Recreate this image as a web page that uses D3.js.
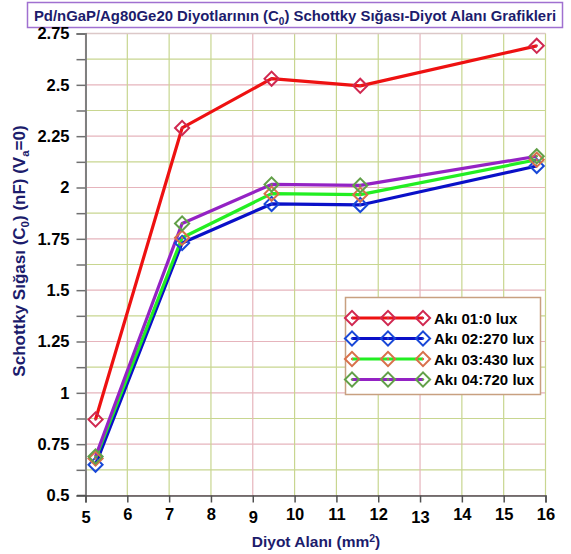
<!DOCTYPE html>
<html><head><meta charset="utf-8">
<script src="https://cdn.jsdelivr.net/npm/d3@7/dist/d3.min.js"></script>
<style>body{margin:0;background:#fff;}svg{display:block;font-family:Arial,"Liberation Sans",sans-serif;}</style>
</head><body><svg id="c" width="571" height="554"></svg>
<script>
const areas = [5.24, 7.31, 9.45, 11.57, 15.79];
const seriesNames = ["Akı 01:0 lux", "Akı 02:270 lux", "Akı 03:430 lux", "Akı 04:720 lux"];
const s1 = [0.87, 2.29, 2.53, 2.495, 2.69];
const s2 = [0.65, 1.73, 1.92, 1.915, 2.105];
const s3 = [0.68, 1.755, 1.97, 1.965, 2.135];
const s4 = [0.69, 1.825, 2.015, 2.01, 2.152];
const xTicks = [5,6,7,8,9,10,11,12,13,14,15,16];
const yTicks = [0.5,0.75,1,1.25,1.5,1.75,2,2.25,2.5,2.75];
const yMinor = d3.range(0.5, 2.7501, 0.125);
const lineColors = ["#ee1111", "#0a10c8", "#22ee22", "#9422c4"];
const markColors = ["#d02850", "#1848d8", "#d8704a", "#62a048"];
const allSeries = [s1, s2, s3, s4];

const svg = d3.select("#c");
const x = d3.scaleLinear().domain([5,16]).range([85.5,545.5]);
const y = d3.scaleLinear().domain([0.5,2.75]).range([495.5,33.5]);

// title
svg.append("rect").attr("x",27.5).attr("y",2.5).attr("width",535).attr("height",25)
  .attr("fill","#fff").attr("stroke","#a070d0").attr("stroke-width",1.5);
svg.append("text").attr("x",295).attr("y",20.5).attr("text-anchor","middle")
  .attr("font-size",14.9).attr("font-weight","bold").attr("fill","#1c1c6c")
  .html('Pd/nGaP/Ag80Ge20 Diyotlarının (C<tspan font-size="10" dy="4">0</tspan><tspan dy="-4">) Schottky Sığası-Diyot Alanı Grafikleri</tspan>');

// grid
const g = svg.append("g");
yMinor.forEach(v => {
  const major = Math.abs(v*4 - Math.round(v*4)) < 1e-6;
  g.append("line").attr("x1",x(5)).attr("x2",x(16)).attr("y1",y(v)).attr("y2",y(v))
    .attr("stroke", major ? "#e6b4bc" : "#c8d690").attr("stroke-width",1.2);
});
xTicks.forEach(v => {
  const major = (v-5)%4===0;
  g.append("line").attr("x1",x(v)).attr("x2",x(v)).attr("y1",y(0.5)).attr("y2",y(2.75))
    .attr("stroke", major ? "#e6b4bc" : "#c8d690").attr("stroke-width",1.2);
});
g.append("line").attr("x1",x(5)).attr("x2",x(16)).attr("y1",y(2.75)).attr("y2",y(2.75)).attr("stroke","#dcc8c8").attr("stroke-width",1.5);

// axes
const yAxis = d3.axisLeft(y).tickValues(yMinor).tickSize(9).tickFormat(d => yTicks.some(t=>Math.abs(t-d)<1e-6) ? d3.format("")(d) : "");
const ya = svg.append("g").attr("transform",`translate(${x(5)},0)`).call(yAxis);
ya.select(".domain").attr("stroke","#808080").attr("stroke-width",2);
ya.selectAll(".tick line").attr("stroke","#707070").attr("stroke-width",1.5);
ya.selectAll(".tick text").attr("font-size",16.5).attr("font-weight","bold").attr("fill","#000")
  .attr("font-family","Arial, 'Liberation Sans', sans-serif").attr("x",-16);

const xAxis = d3.axisBottom(x).tickValues(xTicks).tickSize(7).tickFormat(d3.format("d"));
const xa = svg.append("g").attr("transform",`translate(0,${y(0.5)})`).call(xAxis);
xa.select(".domain").attr("stroke","#505050").attr("stroke-width",1.5);
xa.selectAll(".tick line").attr("stroke","#505050").attr("stroke-width",1.5);
xa.selectAll(".tick text").attr("font-size",16.5).attr("font-weight","bold").attr("fill","#000")
  .attr("font-family","Arial, 'Liberation Sans', sans-serif")
  .attr("y", d => (d-5)%4===0 ? 16 : 13);
svg.append("line").attr("x1",77).attr("x2",x(5)).attr("y1",y(0.5)).attr("y2",y(0.5)).attr("stroke","#505050").attr("stroke-width",1.5);

// axis labels
svg.append("text").attr("x",316).attr("y",547).attr("text-anchor","middle")
  .attr("font-size",15.5).attr("font-weight","bold").attr("fill","#1c1c6c")
  .html('Diyot Alanı (mm<tspan font-size="10.5" dy="-5">2</tspan><tspan dy="5">)</tspan>');
svg.append("text").attr("transform","translate(25,251) rotate(-90)").attr("text-anchor","middle")
  .attr("font-size",17).attr("font-weight","bold").attr("fill","#1c1c6c")
  .html('Schottky Sığası (C<tspan font-size="11.5" dy="4">0</tspan><tspan dy="-4">) (nF) (V</tspan><tspan font-size="11.5" dy="4">a</tspan><tspan dy="-4">=0)</tspan>');

// lines
const line = d3.line().x((d,i)=>x(areas[i])).y(d=>y(d));
function marker(sel, cx, cy, col) {
  sel.append("rect").attr("x",cx-5).attr("y",cy-5).attr("width",10).attr("height",10)
    .attr("transform",`rotate(45,${cx},${cy})`).attr("fill","none").attr("stroke",col).attr("stroke-width",2);
  sel.append("circle").attr("cx",cx).attr("cy",cy).attr("r",1.2).attr("fill",col);
}
allSeries.forEach((s,k) => {
  svg.append("path").datum(s).attr("d",line).attr("fill","none")
    .attr("stroke",lineColors[k]).attr("stroke-width",3.2).attr("stroke-linejoin","round");
});
allSeries.forEach((s,k) => {
  const mg = svg.append("g");
  s.forEach((v,i) => marker(mg, x(areas[i]), y(v), markColors[k]));
});

// legend
svg.append("rect").attr("x",345.5).attr("y",297.5).attr("width",195).attr("height",97)
  .attr("fill","#fff").attr("stroke","#c8a080").attr("stroke-width",1.5);
seriesNames.forEach((n,k) => {
  const ly = 318 + k*20.5;
  const lg = svg.append("g");
  lg.append("line").attr("x1",352).attr("x2",423).attr("y1",ly).attr("y2",ly)
    .attr("stroke",lineColors[k]).attr("stroke-width",3.2);
  [352,388,423].forEach(cx => marker(lg, cx, ly, markColors[k]));
  lg.append("text").attr("x",434).attr("y",ly+5.5).attr("font-size",15).attr("font-weight","bold")
    .attr("fill","#000").text(n);
});
</script></body></html>
